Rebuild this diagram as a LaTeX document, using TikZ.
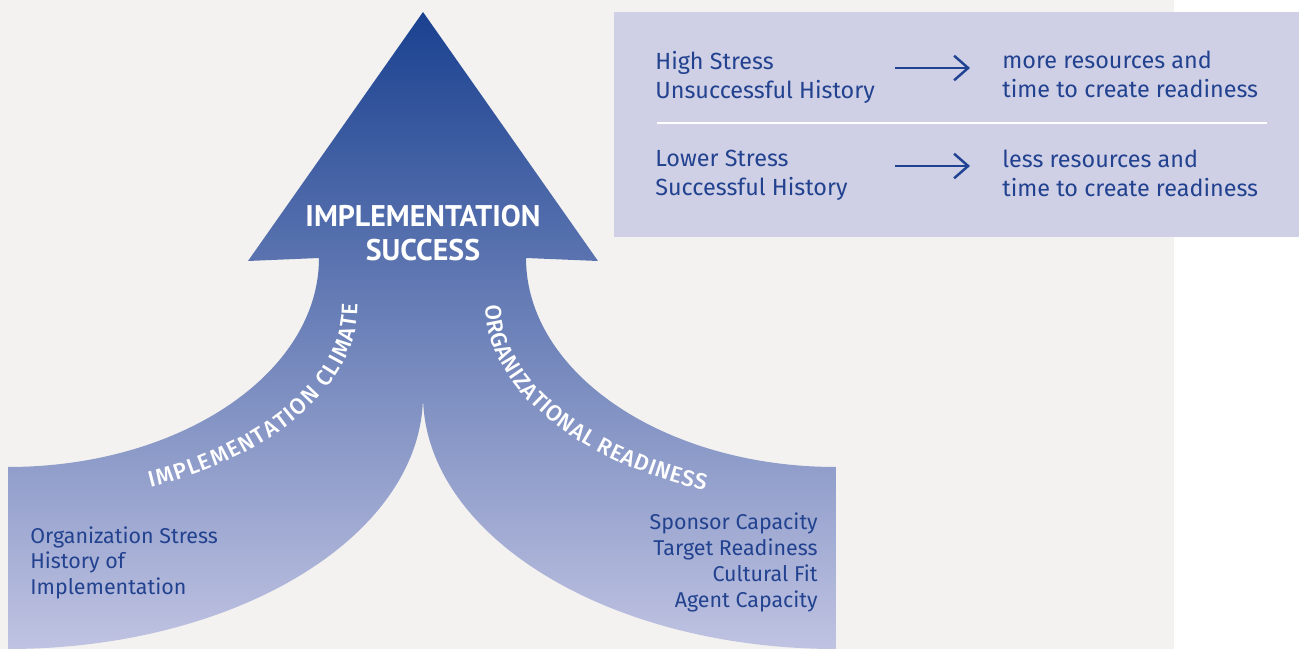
\documentclass[tikz,border=0pt]{standalone}
\usepackage{fontspec}
\setmainfont{Fira Sans}
\newfontfamily\titlefam{PT Sans}
\newfontfamily\labelfam{Fira Sans Medium}
\usetikzlibrary{arrows.meta,decorations.text}
\definecolor{bggrey}{HTML}{F3F2F0}
\definecolor{boxlav}{HTML}{CFD0E6}
\definecolor{navy}{HTML}{1E4291}
\definecolor{txtblue}{HTML}{22428F}
\definecolor{armtop}{HTML}{1A4190}
\definecolor{armmid}{HTML}{6570B0}
\definecolor{armbot}{HTML}{C0C3E2}
\newcommand\armlabelfont{\labelfam\fontsize{12.8}{13}\selectfont}

\begin{document}
\begin{tikzpicture}[x=0.02cm,y=0.02cm,
    boxtext/.style={text=txtblue, font=\fontsize{13.3}{16.44}\selectfont, align=left, inner sep=0pt,
      anchor=north west, execute at begin node=\strut, execute at end node=\strut},
    armtext/.style={text=txtblue, font=\fontsize{12.2}{14.74}\selectfont, inner sep=0pt,
      execute at begin node=\strut, execute at end node=\strut},
    arrowlabel/.style={decorate, decoration={text along path, text align=fit to path, text color=white}},
    flow/.style={navy, line width=1.4pt, -{Straight Barb[length=8pt,width=14pt]}}]
     \useasboundingbox (0,0) rectangle (1301,649);
     \fill[white] (0,0) rectangle (1301,649);
     \fill[bggrey] (0,0) rectangle (1174,649);
     % big arrow with two arms
     \shade[top color=armtop, middle color=armmid, bottom color=armbot]
        (423,637) -- (598,388) -- (526,391)
        arc[start angle=180, end angle=270, x radius=310, y radius=209]
        -- (836,0)
        arc[start angle=270, end angle=180, x radius=413, y radius=254]
        arc[start angle=0, end angle=-90, x radius=415, y radius=254]
        -- (8,182)
        arc[start angle=-90, end angle=0, x radius=311, y radius=209]
        -- (248,388) -- cycle;
     \node[text=white, font=\titlefam\bfseries\fontsize{17}{19.3}\selectfont, align=center, inner sep=0pt,
        anchor=north, execute at begin node=\strut, execute at end node=\strut]
        (succ) at (423,444.5) {IMPLEMENTATION\\SUCCESS};
     \path[arrowlabel, decoration={text={|\armlabelfont|IMPLEMENTATION CLIMATE}}]
        (8,344) ++(-66:350 and 200) arc[start angle=-66, end angle=0.5, x radius=350, y radius=200];
     \path[arrowlabel, decoration={text={|\armlabelfont|ORGANIZATIONAL READINESS}}]
        (836,344) ++(180:350 and 200) arc[start angle=180, end angle=248, x radius=350, y radius=200];
     \node[armtext, anchor=north west, align=left] (clim) at (30,123) {Organization Stress\\History of\\Implementation};
     \node[armtext, anchor=north east, align=right] (ready) at (818,136.5) {Sponsor Capacity\\Target Readiness\\Cultural Fit\\Agent Capacity};
     % legend box
     \fill[boxlav] (614,412) rectangle (1299,637);
     \draw[white, line width=1.2pt] (657,526) -- (1267,526);
     \node[boxtext] (hs) at (655,598) {High Stress\\Unsuccessful History};
     \node[boxtext] (mr) at (1002,598) {more resources and\\time to create readiness};
     \node[boxtext] (ls) at (655,499) {Lower Stress\\Successful History};
     \node[boxtext] (lr) at (1002,499) {less resources and\\time to create readiness};
     \coordinate (a1) at (895,581);
     \coordinate (b1) at (970,581);
     \coordinate (a2) at (895,483);
     \coordinate (b2) at (970,483);
     \draw[flow] (a1) -- (b1);
     \draw[flow] (a2) -- (b2);
\end{tikzpicture}
\end{document}
